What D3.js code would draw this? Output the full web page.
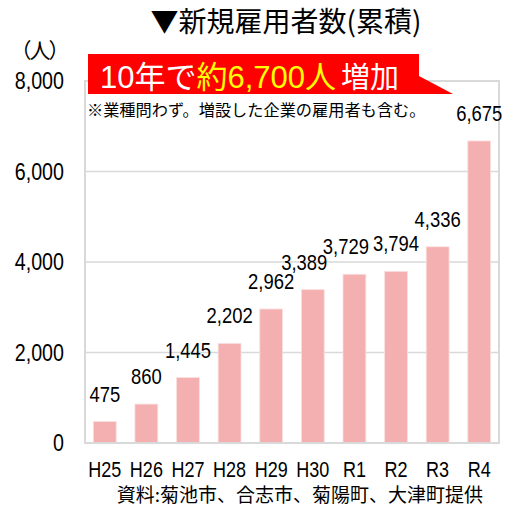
<!DOCTYPE html>
<html>
<head>
<meta charset="utf-8">
<script src="https://cdn.jsdelivr.net/npm/d3@7/dist/d3.min.js"></script>
<style>
  html, body { margin: 0; padding: 0; background: #fff; }
  svg { display: block; }
  text { fill: #000; }
  .num { font-family: "Liberation Sans", Arial, sans-serif; }
  .jp { font-family: "Noto Sans CJK JP", sans-serif; }
  .callout { font-family: "Liberation Sans", Arial, "Noto Sans CJK JP", sans-serif; }
</style>
</head>
<body>
<svg id="chart" width="528" height="510"></svg>
<script>
// Cumulative new hires by fiscal year
const categories = ["H25", "H26", "H27", "H28", "H29", "H30", "R1", "R2", "R3", "R4"];
const hires = [475, 860, 1445, 2202, 2962, 3389, 3729, 3794, 4336, 6675];
const yTicks = [0, 2000, 4000, 6000, 8000];

const titleText = "▼新規雇用者数(累積)";
const unitText = "（人）";
const noteText = "※業種問わず。増設した企業の雇用者も含む。";
const sourceText = "資料:菊池市、合志市、菊陽町、大津町提供";
const calloutParts = [
  { text: "10年で", color: "#ffffff" },
  { text: "約6,700人", color: "#ffff00" },
  { text: "増加", color: "#ffffff" }
];

const svg = d3.select("#chart");
const plot = { left: 85, right: 499, top: 81, bottom: 443 };
const narrow = 0.82; // horizontal squeeze for the condensed number style

const x = d3.scaleBand()
  .domain(categories)
  .range([plot.left, plot.right])
  .paddingInner(0.45)
  .paddingOuter(0.2)
  .align(0.5);

const y = d3.scaleLinear()
  .domain([0, 8000])
  .range([plot.bottom, plot.top]);

const grid = "#d9d9d9";
const fmt = d3.format(",");

// Horizontal gridlines
svg.append("g")
  .selectAll("line")
  .data(yTicks.filter(d => d > 0 && d < 8000))
  .join("line")
  .attr("x1", plot.left).attr("x2", plot.right)
  .attr("y1", d => y(d)).attr("y2", d => y(d))
  .attr("stroke", grid).attr("stroke-width", 1.5);

// Bars
svg.append("g")
  .selectAll("rect")
  .data(hires)
  .join("rect")
  .attr("x", (d, i) => x(categories[i]))
  .attr("width", x.bandwidth())
  .attr("y", d => y(d))
  .attr("height", d => y(0) - y(d))
  .attr("fill", "#f4b0b1")
  .attr("stroke", "#fbe0e0")
  .attr("stroke-width", 0.8);

// Plot frame
svg.append("rect")
  .attr("x", plot.left).attr("y", plot.top)
  .attr("width", plot.right - plot.left)
  .attr("height", plot.bottom - plot.top)
  .attr("fill", "none")
  .attr("stroke", grid).attr("stroke-width", 2);

// Y axis tick labels (condensed)
const yAxis = d3.axisLeft(y)
  .tickValues(yTicks)
  .tickFormat(fmt)
  .tickSize(0)
  .tickPadding(0);
const yg = svg.append("g")
  .attr("transform", `translate(${plot.left - 21},0)`)
  .call(yAxis);
yg.select(".domain").remove();
yg.selectAll("text")
  .attr("class", "num")
  .attr("font-size", 24)
  .attr("font-family", null)
  .attr("fill", "#000")
  .attr("transform", `scale(${narrow},1)`);

// X axis category labels (condensed)
const xAxis = d3.axisBottom(x).tickSize(0).tickPadding(0);
const xg = svg.append("g")
  .attr("transform", `translate(0,461)`)
  .call(xAxis);
xg.select(".domain").remove();
xg.selectAll("text")
  .attr("class", "num")
  .attr("font-size", 22)
  .attr("font-family", null)
  .attr("fill", "#000")
  .attr("transform", `scale(${narrow},1)`);

// Value labels above bars (condensed)
const labelPos = hires.map((d, i) => ({ cx: x(categories[i]) + x.bandwidth() / 2, cy: y(d) - 20 }));
const labels = svg.append("g")
  .selectAll("text")
  .data(hires)
  .join("text")
  .attr("class", "num")
  .attr("text-anchor", "middle")
  .attr("font-size", 22.5)
  .text(d => fmt(d));

// Nudge a label left when it would touch its right neighbour at a similar height
const widths = labels.nodes().map(n => n.getComputedTextLength() * narrow);
for (let i = 0; i < labelPos.length - 1; i++) {
  const a = labelPos[i], b = labelPos[i + 1];
  if (Math.abs(a.cy - b.cy) < 18) {
    const gap = (b.cx - widths[i + 1] / 2) - (a.cx + widths[i] / 2);
    if (gap < 4) a.cx -= (4 - gap);
  }
}
labels.attr("transform", (d, i) => `translate(${labelPos[i].cx},${labelPos[i].cy}) scale(${narrow},1)`);

// Title
svg.append("text")
  .attr("class", "jp")
  .attr("x", 286).attr("y", 32)
  .attr("text-anchor", "middle")
  .attr("font-size", 28)
  .text(titleText);

// Unit label
svg.append("text")
  .attr("class", "jp")
  .attr("x", 39).attr("y", 58)
  .attr("text-anchor", "middle")
  .attr("font-size", 21)
  .attr("letter-spacing", -2)
  .text(unitText);

// Callout box with pointer toward the last bar
const callout = svg.append("g");
callout.append("path")
  .attr("d", "M88,54 H419 V76 L453,94 H88 Z")
  .attr("fill", "#ff0000");
const ct = callout.append("text")
  .attr("class", "callout")
  .attr("x", 100).attr("y", 88)
  .attr("font-size", 31);
ct.selectAll("tspan")
  .data(calloutParts)
  .join("tspan")
  .attr("dx", (d, i) => i === 2 ? 5 : 0)
  .attr("font-size", (d, i) => i === 2 ? 29 : 31)
  .style("fill", d => d.color)
  .text(d => d.text);

// Footnote under the callout
svg.append("text")
  .attr("class", "jp")
  .attr("x", 87).attr("y", 116)
  .attr("font-size", 16.2)
  .text(noteText);

// Data source
svg.append("text")
  .attr("class", "jp")
  .attr("x", 483).attr("y", 502)
  .attr("text-anchor", "end")
  .attr("font-size", 19)
  .text(sourceText);
</script>
</body>
</html>
